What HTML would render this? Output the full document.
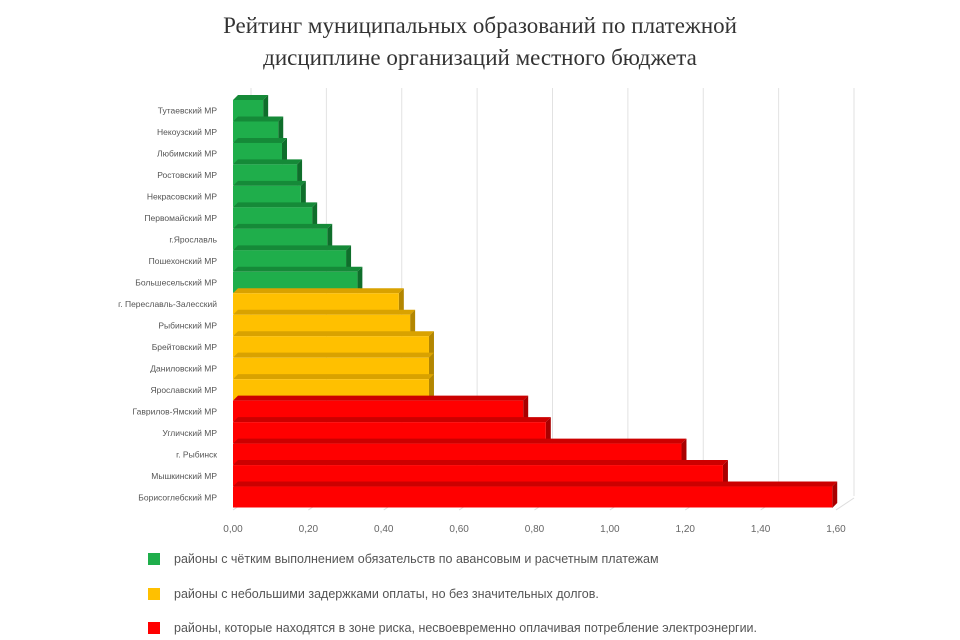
<!DOCTYPE html>
<html><head><meta charset="utf-8"><style>
body{margin:0;background:#fff;width:960px;height:640px;overflow:hidden;font-family:"Liberation Sans",sans-serif}
.title{position:absolute;top:10px;left:0;width:960px;text-align:center;font-family:"Liberation Serif",serif;font-size:23px;line-height:32px;color:#333}
.leg{position:absolute;left:148px;font-size:12.5px;color:#555;display:flex;align-items:center;white-space:nowrap}
.leg i{display:inline-block;width:12px;height:12px;margin-right:14px}
</style></head><body>
<div class="title">Рейтинг муниципальных образований по платежной<br>дисциплине организаций местного бюджета</div>
<svg id="ch" width="960" height="540" style="position:absolute;top:0;left:0"></svg>
<div class="leg" style="top:552px"><i style="background:#1fae4b"></i>районы с чётким выполнением обязательств по авансовым и расчетным платежам</div>
<div class="leg" style="top:587px"><i style="background:#ffc000"></i>районы с небольшими задержками оплаты, но без значительных долгов.</div>
<div class="leg" style="top:621px"><i style="background:#ff0000"></i>районы, которые находятся в зоне риска, несвоевременно оплачивая потребление электроэнергии.</div>
<script>
const categories=["Тутаевский МР","Некоузский МР","Любимский МР","Ростовский МР","Некрасовский МР","Первомайский МР","г.Ярославль","Пошехонский МР","Большесельский МР","г. Переславль-Залесский","Рыбинский МР","Брейтовский МР","Даниловский МР","Ярославский МР","Гаврилов-Ямский МР","Угличский МР","г. Рыбинск","Мышкинский МР","Борисоглебский МР"];
const values=[0.08,0.12,0.13,0.17,0.18,0.21,0.25,0.30,0.33,0.44,0.47,0.52,0.52,0.52,0.77,0.83,1.19,1.30,1.59];
const groups=["g","g","g","g","g","g","g","g","g","y","y","y","y","y","r","r","r","r","r"];
const ticks=["0,00","0,20","0,40","0,60","0,80","1,00","1,20","1,40","1,60"];
const tickVals=[0,0.2,0.4,0.6,0.8,1.0,1.2,1.4,1.6];
const svg=document.getElementById('ch'),NS='http://www.w3.org/2000/svg';
const x0=233,x1=836,yTop=100,yBot=508,dx=18,dy=12;
const xs=v=>x0+(x1-x0)*v/1.6;
const rh=(yBot-yTop)/categories.length;
const ys=i=>yTop+i*rh;
const col={g:["#1fae4b","#158a38","#0f6e2b"],y:["#ffc000","#d9a200","#b38600"],r:["#ff0000","#cc0000","#a80000"]};
function mk(t,a){const e=document.createElementNS(NS,t);for(const k in a)e.setAttribute(k,a[k]);svg.appendChild(e);return e;}
tickVals.forEach((v,i)=>{
 const g=mk('line',{x1:xs(v)+dx,y1:88,x2:xs(v)+dx,y2:yBot-dy,stroke:'#e2e2e2'});
 
 
 const d=mk('line',{x1:xs(v),y1:yBot+2,x2:xs(v)+dx,y2:yBot-dy+2,stroke:'#ddd'});
 
 
 const t=mk('text',{x:xs(v),y:yBot+24,'font-size':'10','fill':'#666','text-anchor':'middle'});
 t.textContent=ticks[i];
 
 
});
categories.forEach((c,i)=>{
 const y=ys(i),w=xs(values[i])-x0,cc=col[groups[i]],d=5;
 const tp=mk('polygon',{points:`${x0},${y} ${x0+d},${y-d} ${x0+w+d},${y-d} ${x0+w},${y}`,fill:cc[1]});
 
 
 const sd=mk('polygon',{points:`${x0+w},${y} ${x0+w+d},${y-d} ${x0+w+d},${y+rh-d} ${x0+w},${y+rh}`,fill:cc[2]});
 
 
 const r=mk('rect',{x:x0,y:y,width:w,height:rh-0.5,fill:cc[0]});
 
 
 const t=mk('text',{x:x0-16,y:y+rh/2+3,'font-size':'8.5','fill':'#555','text-anchor':'end'});
 t.textContent=c;
 
 
});
</script>
</body></html>
